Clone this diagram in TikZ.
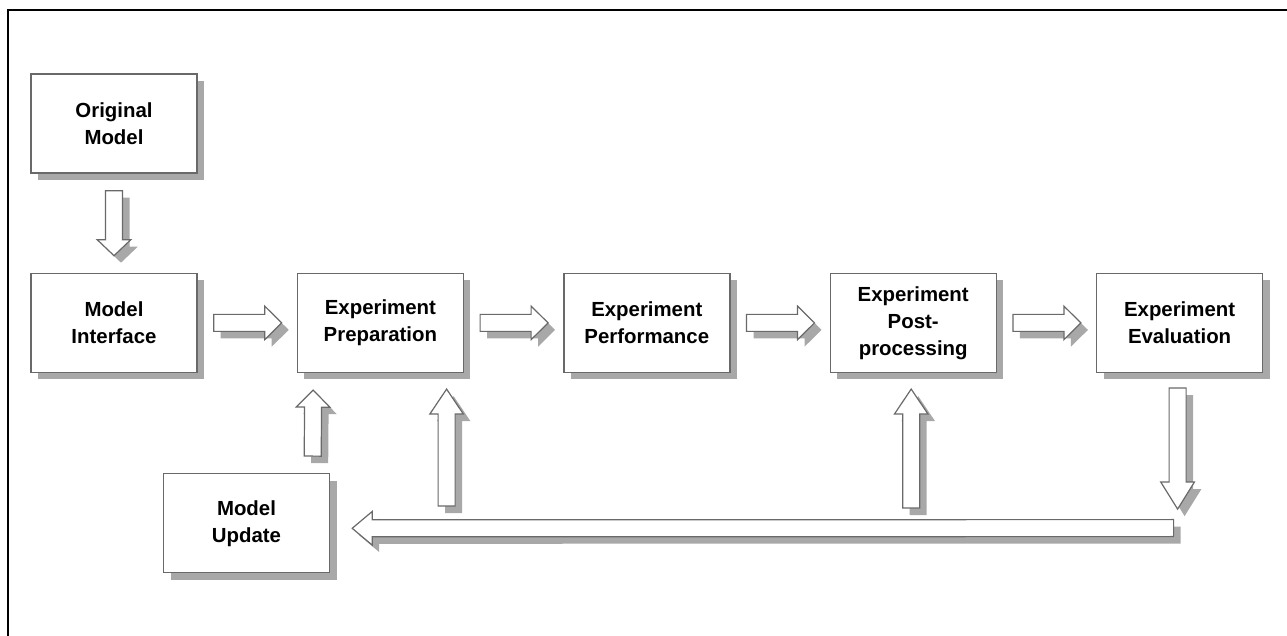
\documentclass[tikz,border=0pt]{standalone}
\usepackage{fontspec}
\setmainfont{Liberation Sans}
\usetikzlibrary{positioning,calc,shadows}

\definecolor{boxline}{RGB}{105,105,105}
\definecolor{shadowgray}{RGB}{168,168,168}

% block arrow: [head length]{from}{to}
\newcommand\blockarrow[3][8.5pt]{%
  \coordinate (ba-s) at (#2);
  \coordinate (ba-e) at (#3);
  \coordinate (ba-h) at ($(ba-e)!#1!(ba-s)$);
  \draw[barrow] ($(ba-s)!4.25pt!90:(ba-e)$) -- ($(ba-h)!4.25pt!90:(ba-e)$)
    -- ($(ba-h)!8.4pt!90:(ba-e)$) -- (ba-e) -- ($(ba-h)!8.4pt!-90:(ba-e)$)
    -- ($(ba-h)!4.25pt!-90:(ba-e)$) -- ($(ba-s)!4.25pt!-90:(ba-e)$) -- cycle;
}

\begin{document}
\begin{tikzpicture}[
    x=0.5pt, y=-0.5pt,
    font=\fontsize{10.2pt}{13.5pt}\selectfont\bfseries,
    shade/.style={drop shadow={shadow xshift=3.5pt, shadow yshift=-3.5pt,
                  fill=shadowgray, draw=none, opacity=1}},
    stage/.style={draw=boxline, line width=0.7pt, fill=white, shade,
                  minimum width=83pt, minimum height=49.5pt, inner sep=0pt, align=center},
    barrow/.style={draw=boxline, line width=0.6pt, fill=white, line join=miter, shade},
    frame/.style={line width=1pt, black},
  ]
    \useasboundingbox (0,0) rectangle (1287,636);
    \draw[frame] (8,636) |- (1287,10);

    % Stages
    \node[stage] (orig) at (114,123.5) {Original\\Model};
    \node[stage, below=49.5pt of orig]  (iface) {Model\\Interface};
    \node[stage, right=49.5pt of iface] (prep)  {Experiment\\Preparation};
    \node[stage, right=49.5pt of prep]  (perf)  {Experiment\\Performance};
    \node[stage, right=49.5pt of perf]  (post)  {Experiment\\Post-\\processing};
    \node[stage, right=49.5pt of post]  (eval)  {Experiment\\Evaluation};
    \node[stage, below=50pt of iface, xshift=66.25pt] (update) {Model\\Update};

    % Forward arrows
    \blockarrow[8pt]{$(orig.south)+(0,17)$}{$(iface.north)+(0,-17)$}
    \blockarrow{$(iface.east)+(16,0)$}{$(prep.west)+(-15,0)$}
    \blockarrow{$(prep.east)+(16,0)$}{$(perf.west)+(-15,0)$}
    \blockarrow{$(perf.east)+(16,0)$}{$(post.west)+(-15,0)$}
    \blockarrow{$(post.east)+(16,0)$}{$(eval.west)+(-15,0)$}

    % Feedback loop
    \coordinate (fb-r) at ($(eval.south)+(-2,136)$);
    \blockarrow[13.5pt]{$(eval.south)+(-2,15)$}{fb-r}
    \blockarrow[10pt]{$(fb-r)+(-4,19)$}{$(update.east)+(22,5)$}
    \blockarrow[12.5pt]{$(prep.south east)+(-17.5,133)$}{$(prep.south east)+(-17.5,16)$}
    \blockarrow[12.5pt]{$(post.south)+(-2,135)$}{$(post.south)+(-2,16)$}
    \blockarrow{$(update.north east)+(-17.5,-17)$}{$(prep.south west)+(16.5,17)$}
\end{tikzpicture}
\end{document}
